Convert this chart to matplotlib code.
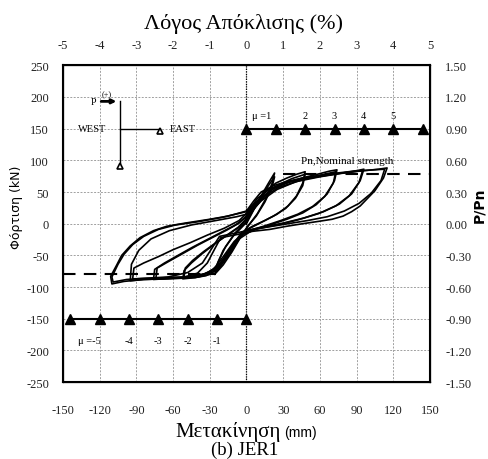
import numpy as np
import matplotlib.pyplot as plt

plt.rcParams['axes.unicode_minus'] = False

# hysteresis cycles (displacement mm, load kN)
cyc1_d = [0, 6, 12, 18, 23, 21, 16, 9, 2, -5, -12, -19, -26, -24, -19, -11, -3, 0]
cyc1_p = [0, 22, 44, 64, 80, 64, 40, 16, -2, -22, -45, -65, -80, -64, -42, -20, -4, 2]

cyc2_d = [0, 6, 13, 19, 23, 21, 15, 8, 1, -6, -13, -20, -25, -23, -17, -9, -2, 0]
cyc2_p = [2, 24, 46, 63, 74, 58, 34, 12, -4, -24, -46, -64, -76, -60, -36, -14, 0, 4]

cyc3_d = [0, 8, 15, 24, 33, 41, 48, 46, 41, 34, 25, 15, 5, -4, -12, -19, -25, -33, -42, -52, -51, -45, -36, -26, -16, -7, 0]
cyc3_p = [4, 30, 50, 64, 72, 78, 82, 64, 44, 28, 15, 5, -4, -14, -36, -58, -74, -82, -85, -87, -74, -62, -47, -32, -18, -6, 8]

cyc4_d = [0, 9, 18, 27, 37, 48, 46, 40, 32, 22, 12, 2, -8, -16, -23, -31, -41, -51, -50, -44, -35, -25, -14, -5, 0]
cyc4_p = [8, 30, 50, 62, 71, 78, 60, 40, 24, 12, 2, -8, -26, -50, -68, -78, -82, -84, -70, -58, -44, -30, -16, -4, 8]

cyc5_d = [0, 10, 20, 32, 45, 58, 68, 74, 72, 66, 57, 46, 33, 19, 5, -6, -15, -22, -30, -42, -56, -68, -76, -75, -67, -56, -44, -32, -20, -9, 0]
cyc5_p = [8, 34, 53, 64, 72, 78, 83, 85, 68, 47, 30, 17, 7, -2, -10, -24, -48, -68, -80, -85, -86, -87, -88, -72, -62, -50, -37, -25, -13, -2, 11]

cyc6_d = [0, 12, 25, 40, 55, 66, 73, 71, 64, 54, 42, 28, 14, 0, -10, -18, -26, -38, -52, -64, -74, -73, -64, -52, -40, -28, -16, -6, 0]
cyc6_p = [11, 36, 54, 66, 74, 79, 82, 64, 43, 27, 15, 5, -4, -12, -30, -54, -72, -82, -84, -85, -86, -70, -60, -47, -34, -22, -10, 1, 12]

cyc7_d = [0, 10, 22, 36, 52, 68, 82, 91, 96, 93, 86, 76, 63, 47, 30, 14, 0, -10, -19, -27, -38, -52, -68, -84, -95, -94, -88, -78, -63, -45, -25, -8, 0]
cyc7_p = [12, 38, 56, 66, 72, 77, 81, 84, 86, 68, 47, 31, 19, 9, 1, -5, -11, -28, -52, -72, -83, -86, -87, -88, -90, -64, -42, -24, -11, -2, 5, 11, 15]

cyc8_d = [0, 12, 26, 42, 60, 76, 88, 95, 92, 84, 73, 59, 42, 25, 9, -4, -14, -22, -32, -46, -62, -78, -93, -92, -84, -72, -60, -46, -32, -18, -6, 0]
cyc8_p = [15, 40, 57, 67, 74, 79, 82, 84, 65, 44, 28, 16, 6, -2, -8, -18, -42, -64, -78, -84, -85, -86, -87, -70, -62, -52, -41, -30, -18, -7, 5, 16]

cyc9_d = [0, 9, 20, 34, 50, 66, 82, 98, 108, 115, 112, 105, 98, 93, 86, 79, 70, 60, 46, 33, 19, 5, -10, -21, -26, -32, -40, -52, -68, -84, -100, -110, -111, -106, -102, -95, -87, -76, -65, -50, -30, -15, 0]
cyc9_p = [16, 40, 56, 66, 72, 77, 81, 84, 86, 88, 72, 52, 38, 28, 19, 12, 7, 4, 0, -4, -9, -12, -18, -22, -40, -62, -78, -85, -87, -88, -91, -95, -83, -65, -50, -35, -22, -11, -4, 1, 7, 12, 20]

cyc10_d = [0, 6, 12, 22, 36, 52, 70, 88, 104, 113, 110, 102, 92, 80, 66, 50, 34, 18, 3, -12, -22, -28, -36, -48, -64, -82, -98, -109, -110, -105, -100, -93, -84, -72, -58, -40, -20, 0, 8, 14]
cyc10_p = [20, 36, 50, 60, 68, 74, 79, 83, 85, 86, 68, 48, 32, 20, 11, 5, 0, -5, -10, -16, -20, -38, -62, -77, -84, -86, -88, -92, -84, -64, -48, -33, -20, -9, -2, 3, 10, 19, 34, 46]

# ductility markers
mu_pos_d = [0, 24, 48, 72, 96, 120, 144]
mu_neg_d = [-144, -120, -96, -72, -48, -24, 0]
mu_pos_lab = ['2', '3', '4', '5']
mu_pos_lab_d = [48, 72, 96, 120]
mu_neg_lab = ['-4', '-3', '-2', '-1']
mu_neg_lab_d = [-96, -72, -48, -24]

pn_level = 78
pn_level_neg = -80

cycles = [(cyc1_d, cyc1_p), (cyc2_d, cyc2_p), (cyc3_d, cyc3_p), (cyc4_d, cyc4_p),
          (cyc5_d, cyc5_p), (cyc6_d, cyc6_p), (cyc7_d, cyc7_p), (cyc8_d, cyc8_p),
          (cyc9_d, cyc9_p), (cyc10_d, cyc10_p)]

serif = 'Liberation Serif'

fig = plt.figure(figsize=(4.88, 4.60), dpi=100)
ax = fig.add_axes([0.129, 0.167, 0.752, 0.689])

ax.set_xlim(-150, 150)
ax.set_ylim(-250, 250)
ax.set_xticks(range(-150, 151, 30))
ax.set_yticks(range(-250, 251, 50))
ax.grid(True, color='#a0a0a0', linestyle=(0, (2, 1.5)), linewidth=0.7)
ax.axvline(0, color='black', linestyle=(0, (1, 1)), linewidth=0.9)
ax.tick_params(length=0, labelsize=9, colors='#222222')
ax.tick_params(axis='x', pad=16)
ax.tick_params(axis='y', pad=10)
for lab in ax.get_xticklabels() + ax.get_yticklabels():
    lab.set_family(serif)
for s in ax.spines.values():
    s.set_linewidth(1.5)

# hysteresis
for d, p in cycles:
    ax.plot(d, p, color='black', linewidth=1.2)

# nominal strength dashed lines
ax.plot([30, 150], [pn_level, pn_level], color='black', linewidth=1.5, dashes=(6, 4))
ax.plot([-150, -25], [pn_level_neg, pn_level_neg], color='black', linewidth=1.5, dashes=(6, 4))
ax.text(82, 100, 'Pn,Nominal strength', ha='center', va='center', family=serif, fontsize=8)

# ductility marker lines
ax.plot(mu_pos_d, [150] * len(mu_pos_d), color='black', linewidth=1.5, marker='^', markersize=7, clip_on=False)
ax.plot(mu_neg_d, [-150] * len(mu_neg_d), color='black', linewidth=1.5, marker='^', markersize=7)
ax.text(20, 171, 'μ =1', ha='right', va='center', family=serif, fontsize=7.5)
for xd, t in zip(mu_pos_lab_d, mu_pos_lab):
    ax.text(xd, 171, t, ha='center', va='center', family=serif, fontsize=7.5)
ax.text(-128, -185, 'μ =-5', ha='center', va='center', family=serif, fontsize=7.5)
for xd, t in zip(mu_neg_lab_d, mu_neg_lab):
    ax.text(xd, -185, t, ha='center', va='center', family=serif, fontsize=7.5)

# loading schematic
ax.plot([-103, -103], [193, 95], color='black', linewidth=1.0)
ax.plot([-103, -71], [150, 150], color='black', linewidth=1.0)
ax.plot([-103], [91], marker='^', markersize=5, mfc='white', mec='black', mew=1.2)
ax.plot([-71], [146], marker='^', markersize=5, mfc='white', mec='black', mew=1.2)
ax.annotate('', xy=(-104, 193), xytext=(-121, 193),
            arrowprops=dict(arrowstyle='-|>', lw=2, color='black', mutation_scale=6))
ax.text(-123, 193, 'P', ha='right', va='center', family=serif, fontsize=7)
ax.text(-114, 205, '(+)', ha='center', va='center', family=serif, fontsize=6)
ax.text(-138, 150, 'WEST', ha='left', va='center', family=serif, fontsize=7.5)
ax.text(-63, 150, 'EAST', ha='left', va='center', family=serif, fontsize=7.5)

# top axis: drift ratio
ax_top = ax.twiny()
ax_top.set_xlim(-5, 5)
ax_top.set_xticks(range(-5, 6))
ax_top.tick_params(length=0, labelsize=9, pad=10, colors='#222222')
for lab in ax_top.get_xticklabels():
    lab.set_family(serif)

# right axis: P/Pn
ax_r = ax.twinx()
ax_r.set_ylim(-1.5, 1.5)
rt = np.arange(-1.5, 1.51, 0.3)
ax_r.set_yticks(rt)
ax_r.set_yticklabels(['%.2f' % v for v in rt])
ax_r.tick_params(length=0, labelsize=9, pad=11, colors='#222222')
for lab in ax_r.get_yticklabels():
    lab.set_family(serif)

fig.text(0.5, 1 - 24 / 460, 'Λόγος Απόκλισης (%)', ha='center', va='center', family=serif, fontsize=16)
fig.text(281 / 488, 1 - 432 / 460, 'Μετακίνηση', ha='right', va='center', family=serif, fontsize=15)
fig.text(284 / 488, 1 - 433 / 460, '(mm)', ha='left', va='center', family='Liberation Sans', fontsize=10)
fig.text(245 / 488, 1 - 450 / 460, '(b) JER1', ha='center', va='center', family=serif, fontsize=13.5)
fig.text(17 / 488, 1 - 207 / 460, 'Φόρτιση (kN)', rotation=90, ha='center', va='center', family='DejaVu Sans', fontsize=9)
fig.text(479 / 488, 1 - 205 / 460, 'P/Pn', rotation=90, ha='center', va='center', family='DejaVu Sans', fontsize=10, weight='bold')

fig.savefig('out.png', dpi=100)
